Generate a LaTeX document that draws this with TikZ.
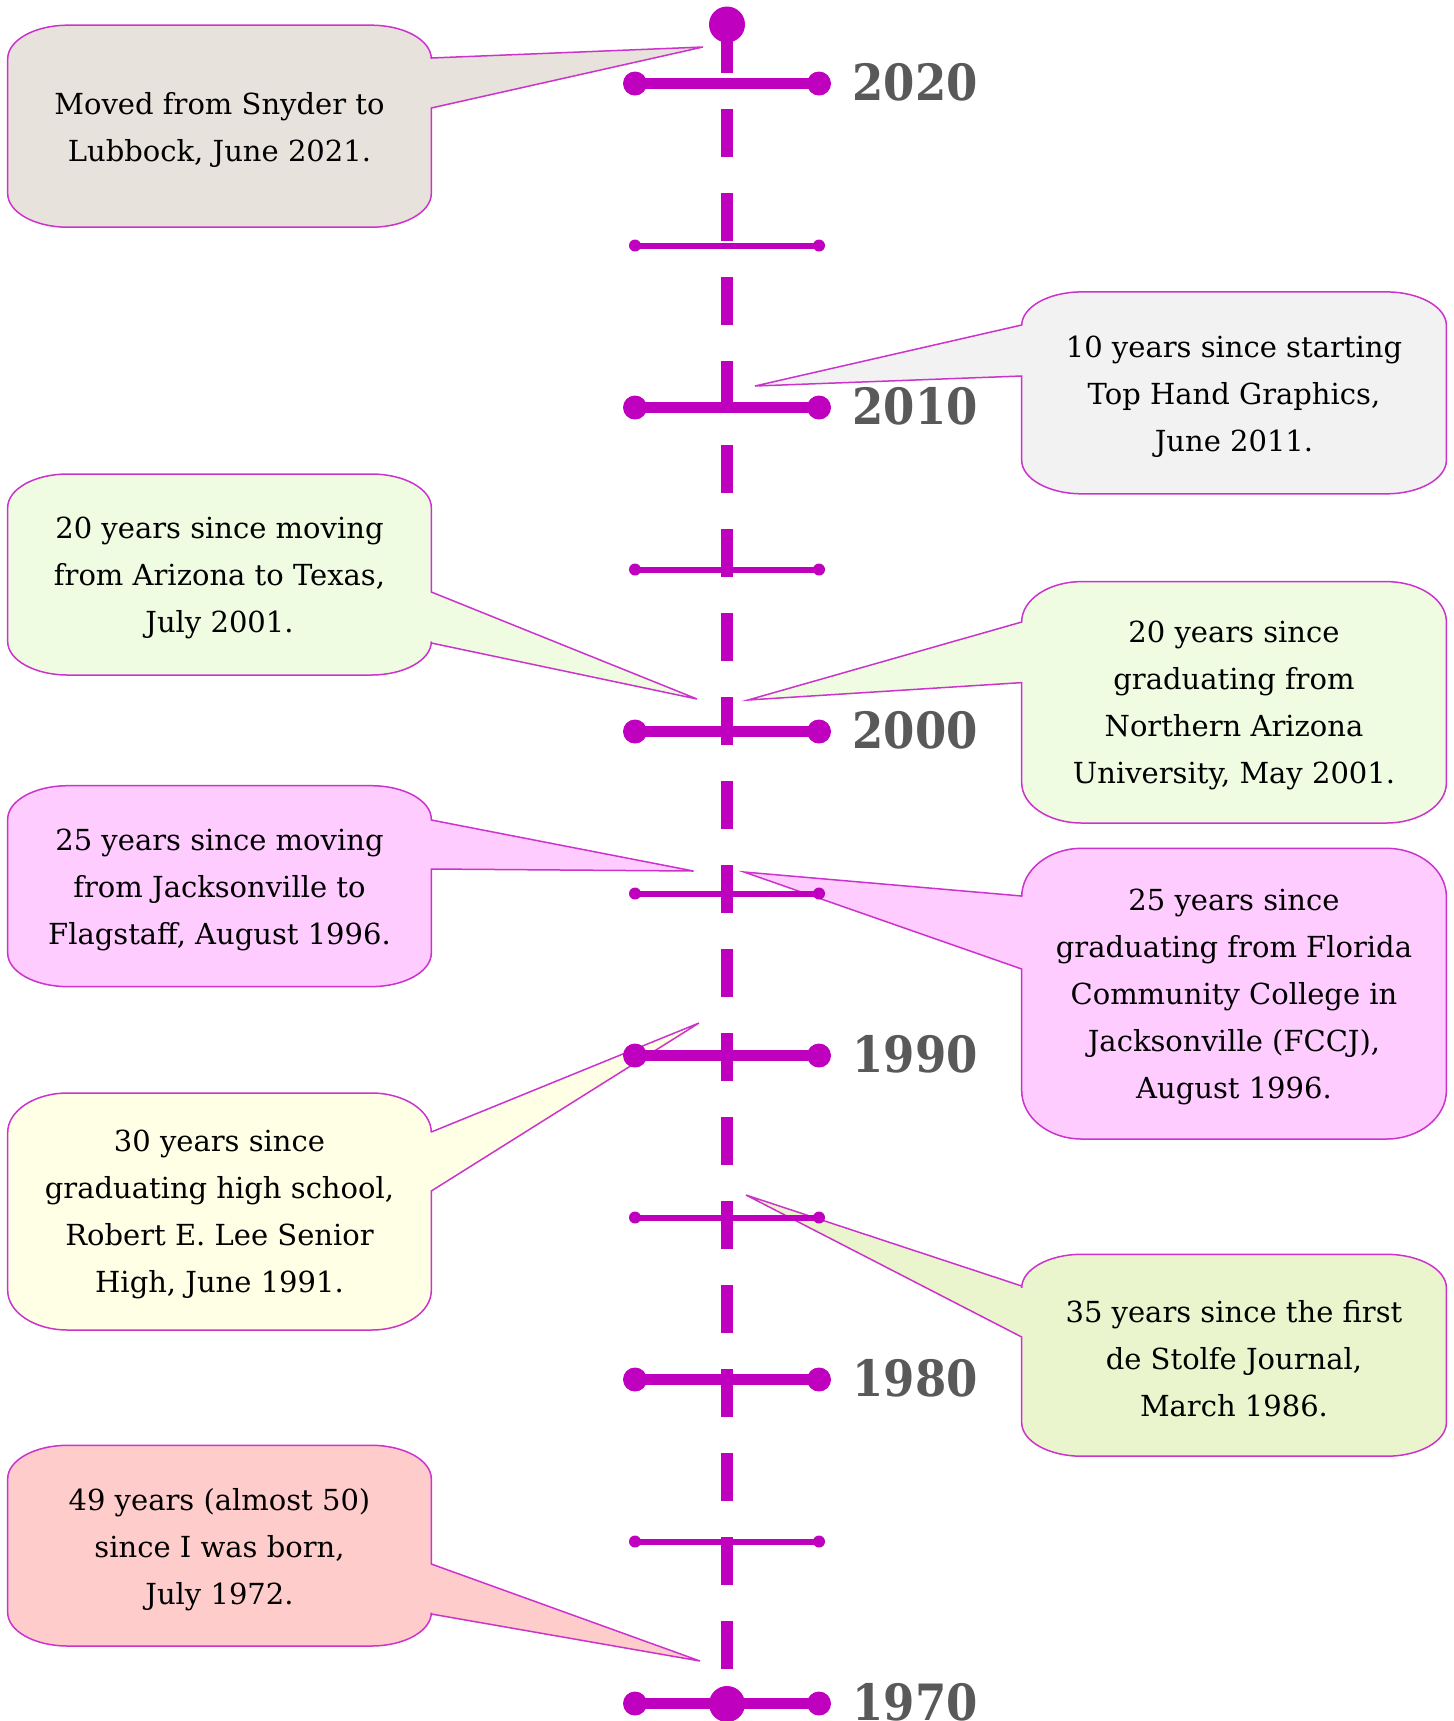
\documentclass[tikz,border=0pt]{standalone}
\usepackage{fontspec}
\setmainfont{DejaVu Serif}
\definecolor{tl}{RGB}{191,0,191}
\definecolor{edgec}{RGB}{204,51,204}
\definecolor{cA}{RGB}{232,226,220}
\definecolor{cB}{RGB}{242,242,242}
\definecolor{cC}{RGB}{239,252,226}
\definecolor{cD}{RGB}{255,204,255}
\definecolor{cE}{RGB}{255,255,230}
\definecolor{cF}{RGB}{235,245,205}
\definecolor{cG}{RGB}{255,204,204}
\definecolor{yr}{RGB}{89,89,89}
\tikzset{
  bubble/.style={draw=edgec, line width=0.75pt, line join=miter},
  btext/.style={align=center, inner sep=0pt, font=\fontsize{14.5}{23.5}\selectfont},
  yearlbl/.style={anchor=west, inner sep=0pt, text=yr, font=\fontsize{25}{25}\selectfont\bfseries},
  axisline/.style={draw=tl, line width=6pt, dash pattern=on 23.75pt off 18.25pt},
  majortick/.style={draw=tl, line width=5.5pt},
  minortick/.style={draw=tl, line width=3pt},
}
% bubble with wedge on its right edge
\newcommand{\lbub}[8]{%
 \pgfmathsetmacro{\bRY}{(#5-#3)/6}%
 \def\bRX{60}%
 \draw[bubble, fill=#1] (#2+\bRX,#3) -- (#4-\bRX,#3)
   .. controls (#4-0.448*\bRX,#3) and (#4,#3+0.448*\bRY) .. (#4,#3+\bRY)
   -- (#4,#6) -- (#8) -- (#4,#7)
   -- (#4,#5-\bRY)
   .. controls (#4,#5-0.448*\bRY) and (#4-0.448*\bRX,#5) .. (#4-\bRX,#5)
   -- (#2+\bRX,#5)
   .. controls (#2+0.448*\bRX,#5) and (#2,#5-0.448*\bRY) .. (#2,#5-\bRY)
   -- (#2,#3+\bRY)
   .. controls (#2,#3+0.448*\bRY) and (#2+0.448*\bRX,#3) .. (#2+\bRX,#3) -- cycle;}
% bubble with wedge on its left edge
\newcommand{\rbub}[8]{%
 \pgfmathsetmacro{\bRY}{(#5-#3)/6}%
 \def\bRX{60}%
 \draw[bubble, fill=#1] (#2+\bRX,#3) -- (#4-\bRX,#3)
   .. controls (#4-0.448*\bRX,#3) and (#4,#3+0.448*\bRY) .. (#4,#3+\bRY)
   -- (#4,#5-\bRY)
   .. controls (#4,#5-0.448*\bRY) and (#4-0.448*\bRX,#5) .. (#4-\bRX,#5)
   -- (#2+\bRX,#5)
   .. controls (#2+0.448*\bRX,#5) and (#2,#5-0.448*\bRY) .. (#2,#5-\bRY)
   -- (#2,#7) -- (#8) -- (#2,#6)
   -- (#2,#3+\bRY)
   .. controls (#2,#3+0.448*\bRY) and (#2+0.448*\bRX,#3) .. (#2+\bRX,#3) -- cycle;}
\begin{document}
\begin{tikzpicture}[x=0.5pt, y=-0.5pt]
\useasboundingbox (0,0) rectangle (1453,1721);
% wedge tips
\coordinate (tip1) at (703,47);
\coordinate (tip2) at (755,386);
\coordinate (tip3) at (697,699);
\coordinate (tip4) at (748,700);
\coordinate (tip5) at (693.5,871);
\coordinate (tip6) at (744,872);
\coordinate (tip7) at (699,1023);
\coordinate (tip8) at (746,1195);
\coordinate (tip9) at (700,1661);
% callouts
\lbub{cA}{7.7}{25.2}{431.3}{227.2}{58}{108}{tip1}
\rbub{cB}{1021.7}{291.9}{1446.4}{493.8}{325}{376}{tip2}
\lbub{cC}{7.7}{474}{431.3}{675}{592}{643}{tip3}
\rbub{cC}{1021.7}{581.6}{1446.4}{823}{622}{682.6}{tip4}
\lbub{cD}{7.7}{785.7}{431.3}{986.6}{820}{869}{tip5}
\rbub{cD}{1021.7}{848.3}{1446.4}{1139}{896}{969}{tip6}
\lbub{cE}{7.7}{1093}{431.3}{1330}{1132}{1191}{tip7}
\rbub{cF}{1021.7}{1254.3}{1446.4}{1456.2}{1286}{1337}{tip8}
\lbub{cG}{7.7}{1445.3}{431.3}{1646}{1564}{1614}{tip9}
% callout texts
\node[btext] (n1) at (219.5,129.5) {Moved from Snyder to\\Lubbock, June 2021.};
\node[btext] (n2) at (1234,396.3) {10 years since starting\\Top Hand Graphics,\\June 2011.};
\node[btext] (n3) at (219.5,577.8) {20 years since moving\\from Arizona to Texas,\\July 2001.};
\node[btext] (n4) at (1234,705.8) {20 years since\\graduating from\\Northern Arizona\\University, May 2001.};
\node[btext] (n5) at (219.5,889.8) {25 years since moving\\from Jacksonville to\\Flagstaff, August 1996.};
\node[btext] (n6) at (1234,997.3) {25 years since\\graduating from Florida\\Community College in\\Jacksonville (FCCJ),\\August 1996.};
\node[btext] (n7) at (219.5,1214.8) {30 years since\\graduating high school,\\Robert E. Lee Senior\\High, June 1991.};
\node[btext] (n8) at (1234,1358.8) {35 years since the first\\de Stolfe Journal,\\March 1986.};
\node[btext] (n9) at (219.5,1549.3) {49 years (almost 50)\\since I was born,\\July 1972.};
% timeline
\coordinate (axstart) at (727,25);
\coordinate (axend) at (727,1704);
\draw[axisline] (axstart) -- (axend);
\foreach \i in {1,3,...,9}{
  \coordinate (L\i) at (635,83.5+162*\i);
  \coordinate (R\i) at (819,83.5+162*\i);
  \draw[minortick] (L\i) -- (R\i);
  \fill[tl] (L\i) circle[radius=6];
  \fill[tl] (R\i) circle[radius=6];
}
\foreach \i/\yy in {0/2020,2/2010,4/2000,6/1990,8/1980,10/1970}{
  \coordinate (L\i) at (635,83.5+162*\i);
  \coordinate (R\i) at (819,83.5+162*\i);
  \draw[majortick] (L\i) -- (R\i);
  \fill[tl] (L\i) circle[radius=12];
  \fill[tl] (R\i) circle[radius=12];
  \node[yearlbl] (y\yy) at (852,82+162*\i) {\scalebox{0.9}[1]{\yy}};
}
\fill[tl] (727,24.5) circle[radius=18];
\fill[tl] (axend) circle[radius=18];
\end{tikzpicture}
\end{document}
